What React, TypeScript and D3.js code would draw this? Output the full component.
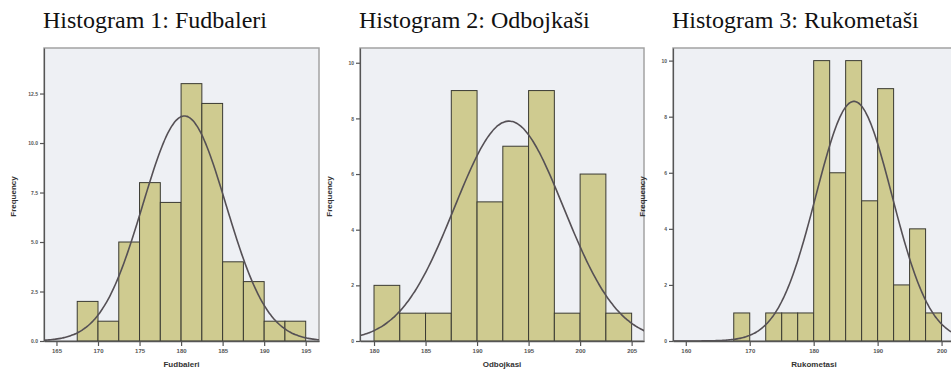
import { useRef, useEffect } from "react";
import * as d3 from "d3";

// bin counts (bin width 2.5 cm)
const fudbaleriCounts = [2, 1, 5, 8, 7, 13, 12, 4, 3, 1, 1];
const odbojkasiCounts = [2, 1, 1, 9, 5, 7, 9, 1, 6, 1];
const rukometasiCounts = [1, 0, 1, 1, 1, 10, 6, 10, 5, 9, 2, 4, 1];

const fudbaleriXTicks = [165, 170, 175, 180, 185, 190, 195];
const odbojkasiXTicks = [180, 185, 190, 195, 200, 205];
const rukometasiXTicks = [160, 170, 180, 190, 200];

const fudbaleriYTicks = [0, 2.5, 5, 7.5, 10, 12.5];
const odbojkasiYTicks = [0, 2, 4, 6, 8, 10];
const rukometasiYTicks = [0, 2, 4, 6, 8, 10];

// fitted normal curve: mean, sd
const fudbaleriFit = [180.4, 5.0];
const odbojkasiFit = [193.1, 5.3];
const rukometasiFit = [186.3, 5.95];

const BIN = 2.5;

interface Panel {
  title: string;
  axisTitle: string;
  counts: number[];
  binStart: number;
  xTicks: number[];
  yTicks: number[];
  yFormat: string;
  fit: number[];
  left: number;
  right: number;
  xDomain: [number, number];
  yMax: number;
}

const panels: Panel[] = [
  {
    title: "Histogram 1: Fudbaleri",
    axisTitle: "Fudbaleri",
    counts: fudbaleriCounts,
    binStart: 167.5,
    xTicks: fudbaleriXTicks,
    yTicks: fudbaleriYTicks,
    yFormat: ".1f",
    fit: fudbaleriFit,
    left: 44,
    right: 319,
    xDomain: [163.5, 196.6],
    yMax: 14.8,
  },
  {
    title: "Histogram 2: Odbojkaši",
    axisTitle: "Odbojkasi",
    counts: odbojkasiCounts,
    binStart: 180,
    xTicks: odbojkasiXTicks,
    yTicks: odbojkasiYTicks,
    yFormat: "d",
    fit: odbojkasiFit,
    left: 360,
    right: 644,
    xDomain: [178.64, 206.2],
    yMax: 10.53,
  },
  {
    title: "Histogram 3: Rukometaši",
    axisTitle: "Rukometasi",
    counts: rukometasiCounts,
    binStart: 167.5,
    xTicks: rukometasiXTicks,
    yTicks: rukometasiYTicks,
    yFormat: "d",
    fit: rukometasiFit,
    left: 673,
    right: 955,
    xDomain: [158.0, 202.1],
    yMax: 10.45,
  },
];

export default function App() {
  const svgRef = useRef<SVGSVGElement>(null);

  useEffect(() => {
    if (!svgRef.current) return;
    const svg = d3.select(svgRef.current);
    svg.selectAll("*").remove();

    const top = 48;
    const bottom = 341;

    panels.forEach((p, i) => {
      const x = d3.scaleLinear().domain(p.xDomain).range([p.left, p.right]);
      const y = d3.scaleLinear().domain([0, p.yMax]).range([bottom, top]);

      // title
      svg.append("text")
        .attr("x", p.left - 1)
        .attr("y", 28)
        .attr("font-family", "'Liberation Serif', 'Times New Roman', serif")
        .attr("font-size", "24px")
        .attr("fill", "#111")
        .text(p.title);

      svg.append("defs").append("clipPath")
        .attr("id", `clip${i}`)
        .append("rect")
        .attr("x", p.left)
        .attr("y", top)
        .attr("width", p.right - p.left)
        .attr("height", bottom - top);

      // plot background
      svg.append("rect")
        .attr("x", p.left)
        .attr("y", top)
        .attr("width", p.right - p.left)
        .attr("height", bottom - top)
        .attr("fill", "#eef0f4")
        .attr("stroke", "#a3a3a3")
        .attr("stroke-width", 1.5);

      const g = svg.append("g").attr("clip-path", `url(#clip${i})`);

      // bars
      g.selectAll("rect.bar")
        .data(p.counts.map((c, j) => ({ c, x0: p.binStart + j * BIN })).filter((d) => d.c > 0))
        .join("rect")
        .attr("class", "bar")
        .attr("x", (d) => x(d.x0))
        .attr("y", (d) => y(d.c))
        .attr("width", (d) => x(d.x0 + BIN) - x(d.x0))
        .attr("height", (d) => y(0) - y(d.c))
        .attr("fill", "#cfcb90")
        .attr("stroke", "#3a3a32")
        .attr("stroke-width", 1);

      // normal curve
      const n = d3.sum(p.counts);
      const [mu, sd] = p.fit;
      const pts = d3.range(p.xDomain[0], p.xDomain[1] + 0.2, 0.2);
      const line = d3.line<number>()
        .x((v) => x(v))
        .y((v) => y((n * BIN) / (sd * Math.sqrt(2 * Math.PI)) * Math.exp(-0.5 * ((v - mu) / sd) ** 2)))
        .curve(d3.curveBasis);
      g.append("path")
        .attr("d", line(pts))
        .attr("fill", "none")
        .attr("stroke", "#555055")
        .attr("stroke-width", 1.6);

      // x axis
      svg.append("g")
        .attr("transform", `translate(0,${bottom})`)
        .call(d3.axisBottom(x).tickValues(p.xTicks).tickSize(5).tickPadding(3).tickSizeOuter(0))
        .call((a) => a.select(".domain").attr("stroke", "#555").attr("stroke-width", 1.5))
        .call((a) => a.selectAll(".tick line").attr("stroke", "#555").attr("stroke-width", 1.2))
        .call((a) => a.selectAll(".tick text").attr("fill", "#555").attr("font-size", "6px")
          .attr("font-family", "Arial, 'Liberation Sans', sans-serif").attr("font-weight", "bold"));

      // y axis
      svg.append("g")
        .attr("transform", `translate(${p.left},0)`)
        .call(d3.axisLeft(y).tickValues(p.yTicks).tickFormat(d3.format(p.yFormat)).tickSize(4).tickPadding(2).tickSizeOuter(0))
        .call((a) => a.select(".domain").attr("stroke", "#555").attr("stroke-width", 1.2))
        .call((a) => a.selectAll(".tick line").attr("stroke", "#555").attr("stroke-width", 1.2))
        .call((a) => a.selectAll(".tick text").attr("fill", "#555").attr("font-size", "5px")
          .attr("font-family", "Arial, 'Liberation Sans', sans-serif").attr("font-weight", "bold"));

      // axis titles
      svg.append("text")
        .attr("transform", `translate(${p.left - 28},${(top + bottom) / 2 + 2}) rotate(-90)`)
        .attr("text-anchor", "middle")
        .attr("font-family", "Arial, 'Liberation Sans', sans-serif")
        .attr("font-size", "8px")
        .attr("font-weight", "bold")
        .attr("fill", "#333")
        .text("Frequency");

      const mid = i === 2 ? (p.left + 951) / 2 + 2 : (p.left + p.right) / 2;
      svg.append("text")
        .attr("x", mid)
        .attr("y", 367)
        .attr("text-anchor", "middle")
        .attr("font-family", "Arial, 'Liberation Sans', sans-serif")
        .attr("font-size", "8px")
        .attr("font-weight", "bold")
        .attr("fill", "#333")
        .text(p.axisTitle);
    });
  }, []);

  return (
    <svg
      ref={svgRef}
      width={951}
      height={370}
      style={{ position: "absolute", left: 0, top: 0, background: "#fff" }}
    />
  );
}
